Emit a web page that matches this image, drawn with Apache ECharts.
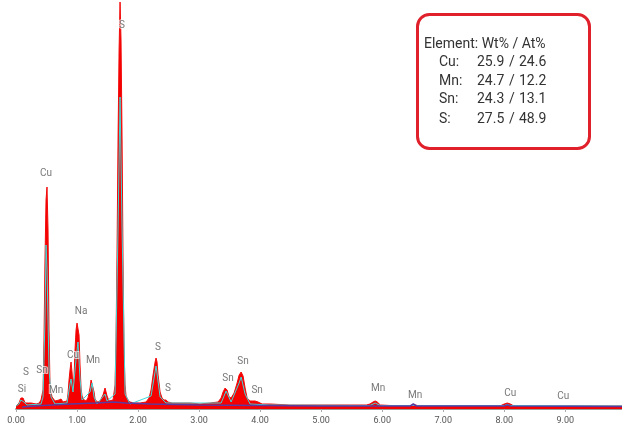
<!DOCTYPE html>
<html>
<head>
<meta charset="utf-8">
<script src="https://cdn.jsdelivr.net/npm/echarts@6/dist/echarts.min.js"></script>
<style>
html,body{margin:0;padding:0;background:#fff;}
#chart{width:622px;height:427px;}
</style>
</head>
<body>
<div id="chart"></div>
<script>
// X axis tick values (keV)
const xTicks = [0,1,2,3,4,5,6,7,8,9];
const xMax = 9.93;
const yMax = 4090;

// Main spectrum (red, filled): [keV, counts]
const redSpectrum = [
[0.00,30],[0.05,60],[0.08,110],[0.10,130],[0.115,110],[0.15,60],[0.18,50],[0.21,60],[0.23,80],[0.25,60],[0.28,40],[0.33,50],[0.38,60],[0.41,90],
[0.443,190],[0.459,690],[0.475,1490],[0.492,2090],[0.508,2220],[0.525,1790],[0.541,790],[0.557,240],[0.574,170],[0.59,120],[0.607,110],
[0.64,80],[0.67,60],[0.705,90],[0.738,100],[0.77,70],[0.80,60],[0.836,80],[0.852,150],[0.869,290],[0.885,390],[0.902,470],[0.918,370],
[0.934,240],[0.951,310],[0.967,590],[0.984,790],[1.000,860],[1.016,870],[1.033,740],[1.049,440],[1.066,210],[1.082,130],[1.115,90],
[1.148,80],[1.18,110],[1.213,210],[1.23,290],[1.246,310],[1.262,270],[1.279,170],[1.295,100],[1.328,70],[1.377,80],[1.426,140],
[1.459,210],[1.475,200],[1.492,130],[1.525,80],[1.557,70],[1.59,90],[1.623,240],[1.639,690],[1.656,1590],[1.672,2690],[1.689,3590],
[1.705,4070],[1.721,3690],[1.738,2690],[1.754,1490],[1.77,590],[1.787,240],[1.803,130],[1.836,90],[1.869,70],[1.934,60],[2.033,60],
[2.131,70],[2.18,110],[2.213,190],[2.246,340],[2.279,470],[2.295,510],[2.311,470],[2.328,340],[2.361,170],[2.393,110],[2.426,90],
[2.459,90],[2.492,70],[2.557,60],[2.689,60],[2.852,60],[3.016,50],[3.18,60],[3.311,70],[3.361,110],[3.393,170],[3.426,210],[3.443,220],
[3.459,190],[3.492,120],[3.525,110],[3.574,160],[3.623,260],[3.656,340],[3.689,370],[3.721,330],[3.754,210],[3.787,110],[3.836,80],
[3.918,80],[3.967,70],[4.033,50],[4.164,50],[4.49,40],[4.98,40],[5.48,40],[5.74,40],[5.80,50],[5.85,70],[5.885,80],[5.92,70],[5.97,40],
[6.30,30],[6.46,30],[6.54,40],[6.62,30],[7.28,30],[7.93,30],[8.00,50],[8.05,60],[8.10,50],[8.16,30],[8.92,30],[9.93,30]
];

// Overlay spectrum (cyan line)
const cyanSpectrum = [
[0.00,30],[0.05,50],[0.08,90],[0.10,110],[0.13,70],[0.18,40],[0.41,50],[0.443,120],[0.475,900],[0.492,1640],[0.508,1400],[0.541,400],
[0.574,120],[0.64,50],[0.836,60],[0.885,250],[0.902,300],[0.934,170],[0.984,500],[1.016,670],[1.049,300],[1.082,90],[1.213,170],
[1.246,260],[1.279,120],[1.328,50],[1.459,150],[1.492,80],[1.623,150],[1.672,1800],[1.705,3120],[1.738,1800],[1.787,150],[1.869,50],
[2.213,130],[2.295,430],[2.361,120],[2.459,60],[3.361,60],[3.443,180],[3.525,70],[3.656,260],[3.689,320],[3.754,150],[3.836,50],
[4.16,40],[5.80,35],[5.885,60],[5.97,35],[8.00,35],[8.05,45],[8.10,35],[9.93,30]
];

// Background line (purple)
const backgroundLine = [
[0.10,20],[0.30,30],[0.60,40],[0.90,50],[1.30,60],[1.60,70],[1.80,60],[2.20,50],[3.00,40],[4.00,35],[5.00,30],
[6.46,30],[6.51,50],[6.56,30],[8.00,30],[8.05,40],[8.10,30],[9.93,25]
];

// Peak labels: [keV, counts, text]
const peakLabels = [
[1.738,3840,'S'],[0.492,2360,'Cu'],[1.066,980,'Na'],[0.934,540,'Cu'],[1.262,490,'Mn'],
[0.164,370,'S'],[0.426,390,'Sn'],[0.098,200,'Si'],[0.656,190,'Mn'],[2.328,620,'S'],[2.492,210,'S'],
[3.475,310,'Sn'],[3.721,480,'Sn'],[3.951,190,'Sn'],[5.934,210,'Mn'],[6.541,140,'Mn'],[8.098,160,'Cu'],[8.967,130,'Cu']
];

// Composition table
const tableHeader = 'Element: Wt% / At%';
const tableElements = ['Cu:','Mn:','Sn:','S:'];
const wtPercent = ['25.9','24.7','24.3','27.5'];
const atPercent = ['24.6','12.2','13.1','48.9'];

const chart = echarts.init(document.getElementById('chart'), null, {renderer:'canvas'});
const FONT = 'Roboto, "Open Sans", sans-serif';
const TS = {fontSize:14, fontFamily:FONT, fill:'#333'};

const graphics = [
  {type:'rect', left:416, top:13, shape:{width:172, height:134, r:12},
   style:{fill:'#fff', stroke:'#e0202a', lineWidth:3}, z:10}
];
graphics.push({type:'text', left:424, top:37, z:12, style:Object.assign({text:tableHeader}, TS)});
const rowTops = [55, 74, 92, 112];
tableElements.forEach((el,i)=>{
  graphics.push({type:'text', left:439, top:rowTops[i], z:12, style:Object.assign({text:el}, TS)});
  graphics.push({type:'text', left:477, top:rowTops[i], z:12, style:Object.assign({text:wtPercent[i]}, TS)});
  graphics.push({type:'text', left:509, top:rowTops[i], z:12, style:Object.assign({text:'/'}, TS)});
  graphics.push({type:'text', left:519, top:rowTops[i], z:12, style:Object.assign({text:atPercent[i]}, TS)});
});

chart.setOption({
  animation:false,
  backgroundColor:'#fff',
  grid:{left:16, right:0, top:0, bottom:18},
  xAxis:{
    type:'value', min:xTicks[0], max:xMax, interval:1,
    axisLine:{show:true, lineStyle:{color:'#9a9a9a', width:2}},
    axisTick:{show:true, length:3, lineStyle:{color:'#aaa'}},
    splitLine:{show:false},
    axisLabel:{fontSize:9, color:'#555', fontFamily:FONT, margin:7, showMaxLabel:false,
      formatter:v=>xTicks.includes(v)?v.toFixed(2):''}
  },
  yAxis:{type:'value', min:0, max:yMax, show:false, splitLine:{show:false}},
  series:[
    {type:'line', data:redSpectrum, symbol:'none', z:2,
     lineStyle:{color:'#f20a0a', width:1}, itemStyle:{color:'#f20a0a'},
     areaStyle:{color:'#f50000', opacity:1}},
    {type:'line', data:cyanSpectrum, symbol:'none', z:3,
     lineStyle:{color:'#40d8d8', width:1}},
    {type:'line', data:backgroundLine, symbol:'none', z:4,
     lineStyle:{color:'#5a3aa0', width:1.5}},
    {type:'scatter', data:peakLabels, symbolSize:1, z:20, zlevel:1,
     itemStyle:{color:'rgba(0,0,0,0)'},
     label:{show:true, position:'inside', formatter:p=>p.data[2], fontSize:10, color:'#555',
       fontFamily:FONT, textBorderColor:'rgba(255,255,255,0.85)', textBorderWidth:2}}
  ],
  graphic:graphics
});
</script>
</body>
</html>
